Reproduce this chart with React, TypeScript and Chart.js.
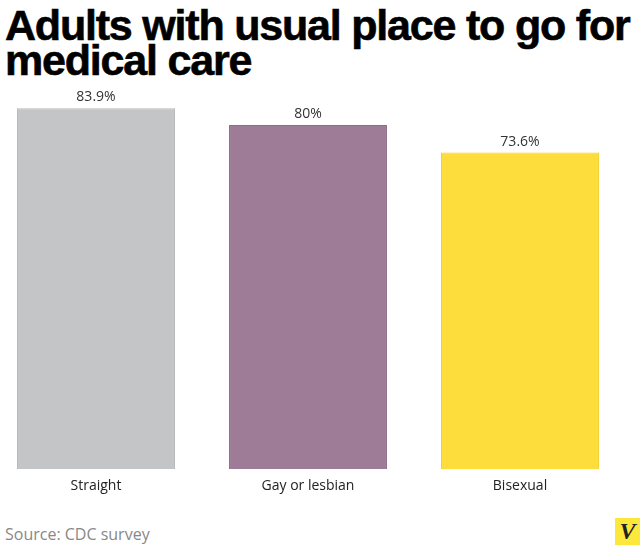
import { useEffect, useRef } from "react";
import { Chart, registerables } from "chart.js";

Chart.register(...registerables);

const groups = ["Straight", "Gay or lesbian", "Bisexual"];
const shareWithUsualPlace = [83.9, 80, 73.6];
const valueLabels = ["83.9%", "80%", "73.6%"];
const barColors = ["#c4c5c7", "#9e7c98", "#fddd3c"];
const barEdges = ["#b5b6b8", "#8f6d89", "#f1cf30"];

const valueLabelPlugin = {
  id: "valueLabels",
  afterDatasetsDraw(chart: Chart) {
    const { ctx } = chart;
    const meta = chart.getDatasetMeta(0);
    ctx.save();
    ctx.font = "14px 'Open Sans', sans-serif";
    ctx.fillStyle = "#333";
    ctx.textAlign = "center";
    ctx.textBaseline = "middle";
    meta.data.forEach((bar, i) => {
      ctx.fillText(valueLabels[i], bar.x, bar.y - 11);
    });
    ctx.restore();
  },
};

export default function App() {
  const ref = useRef<HTMLCanvasElement | null>(null);

  useEffect(() => {
    document.body.style.margin = "0";
    if (!ref.current) return;
    const chart = new Chart(ref.current, {
      type: "bar",
      data: {
        labels: groups,
        datasets: [
          {
            data: shareWithUsualPlace,
            backgroundColor: barColors,
            borderColor: barEdges,
            borderWidth: 1,
            barPercentage: 0.745,
            categoryPercentage: 1,
          },
        ],
      },
      options: {
        animation: false,
        responsive: true,
        maintainAspectRatio: false,
        layout: { padding: { top: 22 } },
        plugins: {
          legend: { display: false },
          tooltip: { enabled: false },
        },
        scales: {
          x: {
            grid: { display: false, drawTicks: false },
            border: { display: false },
            ticks: {
              color: "#222",
              padding: 9,
              font: { family: "'Open Sans', sans-serif", size: 14 },
            },
            afterFit: (scale: any) => {
              scale.height = 41;
            },
          },
          y: {
            display: false,
            min: 0,
            max: 90,
          },
        },
      },
      plugins: [valueLabelPlugin],
    });
    return () => chart.destroy();
  }, []);

  return (
    <div style={{ position: "relative", width: 640, height: 545, overflow: "hidden", background: "#fff" }}>
      <div
        style={{
          position: "absolute",
          left: 5,
          top: 0,
          fontFamily: "'Liberation Sans', Arial, sans-serif",
          fontWeight: 700,
          fontSize: 43,
          lineHeight: "35px",
          paddingTop: 8,
          color: "#000",
          letterSpacing: -1.2,
          WebkitTextStroke: "0.6px #000",
          whiteSpace: "nowrap",
        }}
      >
        Adults with usual place to go for
        <br />
        medical care
      </div>
      <div style={{ position: "absolute", left: -10, top: 60, width: 636, height: 450 }}>
        <canvas ref={ref} />
      </div>
      <div
        style={{
          position: "absolute",
          left: 5,
          top: 523,
          fontFamily: "'Open Sans', sans-serif",
          fontSize: 16,
          color: "#888",
        }}
      >
        Source: CDC survey
      </div>
      <div
        style={{
          position: "absolute",
          left: 615,
          top: 518,
          width: 25,
          height: 27,
          background: "#fbe83a",
          color: "#222",
          fontFamily: "'Liberation Serif', serif",
          fontWeight: 700,
          fontStyle: "italic",
          fontSize: 24,
          lineHeight: "27px",
          textAlign: "center",
        }}
      >
        V
      </div>
    </div>
  );
}
